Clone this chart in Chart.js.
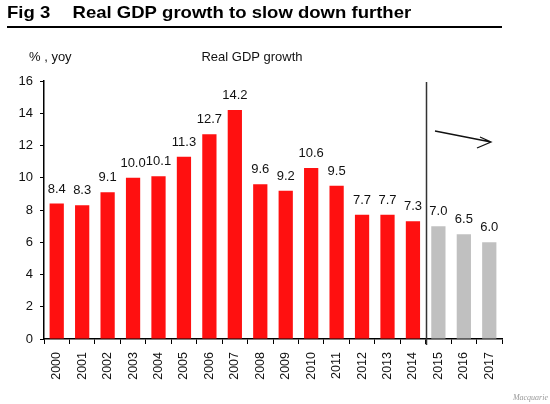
<!DOCTYPE html>
<html>
<head>
<meta charset="utf-8">
<script src="https://cdn.jsdelivr.net/npm/chart.js@4/dist/chart.umd.min.js"></script>
<style>
  html, body { margin: 0; padding: 0; background: #fff; }
  #wrap { position: relative; width: 550px; height: 404px; }
</style>
</head>
<body>
<div id="wrap"><canvas id="c" width="550" height="404"></canvas></div>
<script>
const years = ["2000","2001","2002","2003","2004","2005","2006","2007","2008","2009","2010","2011","2012","2013","2014","2015","2016","2017"];
const growth = [8.4, 8.3, 9.1, 10.0, 10.1, 11.3, 12.7, 14.2, 9.6, 9.2, 10.6, 9.5, 7.7, 7.7, 7.3, 7.0, 6.5, 6.0];
const forecastFrom = "2015";
const yTicks = [0, 2, 4, 6, 8, 10, 12, 14, 16];

const FONT = "'Liberation Sans', Arial, sans-serif";
const firstForecast = years.indexOf(forecastFrom);
const barColors = years.map((y, i) => i >= firstForecast ? '#c0c0c0' : '#ff1010');

const decor = {
  id: 'decor',
  afterDatasetsDraw(chart) {
    const ctx = chart.ctx;
    const meta = chart.getDatasetMeta(0);
    ctx.save();
    ctx.fillStyle = '#111';
    ctx.font = '13px ' + FONT;
    ctx.textAlign = 'center';
    ctx.textBaseline = 'alphabetic';
    meta.data.forEach((bar, i) => {
      ctx.fillText(growth[i].toFixed(1), bar.x, bar.y - 11);
    });
    ctx.restore();
  },
  afterDraw(chart) {
    const ctx = chart.ctx;
    const xs = chart.scales.x;
    const area = chart.chartArea;
    ctx.save();
    // title (slightly wide lettering as in the original)
    ctx.fillStyle = '#000';
    ctx.font = 'bold 17px ' + FONT;
    ctx.textBaseline = 'alphabetic';
    ctx.textAlign = 'left';
    ctx.save();
    ctx.scale(1.09, 1);
    ctx.fillText('Fig 3', 7 / 1.09, 17.5);
    ctx.fillText('Real GDP growth to slow down further', 72.5 / 1.09, 17.5);
    ctx.restore();
    // underline
    ctx.strokeStyle = '#000';
    ctx.lineWidth = 2;
    ctx.beginPath();
    ctx.moveTo(7, 27);
    ctx.lineTo(502, 27);
    ctx.stroke();
    // subtitles
    ctx.font = '13px ' + FONT;
    ctx.textBaseline = 'middle';
    ctx.fillStyle = '#111';
    ctx.fillText('% , yoy', 29, 57);
    ctx.textAlign = 'center';
    ctx.fillText('Real GDP growth', 252, 57);
    // forecast divider
    const xd = Math.round((xs.getPixelForValue(firstForecast - 1) + xs.getPixelForValue(firstForecast)) / 2) + 0.5;
    ctx.strokeStyle = '#333';
    ctx.lineWidth = 1.5;
    ctx.beginPath();
    ctx.moveTo(xd, area.top + 1);
    ctx.lineTo(xd, area.bottom + 6);
    ctx.stroke();
    // arrow
    ctx.strokeStyle = '#111';
    ctx.lineWidth = 1.3;
    ctx.beginPath();
    ctx.moveTo(435, 131);
    ctx.lineTo(491, 142);
    ctx.moveTo(477, 148);
    ctx.lineTo(491, 142);
    ctx.lineTo(480, 137);
    ctx.stroke();
    // source
    ctx.font = 'italic 8px "Liberation Serif", serif';
    ctx.fillStyle = '#999';
    ctx.textAlign = 'right';
    ctx.fillText('Macquarie', 548, 398);
    ctx.restore();
  }
};

new Chart(document.getElementById('c'), {
  type: 'bar',
  data: {
    labels: years,
    datasets: [{
      data: growth,
      backgroundColor: barColors,
      borderWidth: 0,
      barPercentage: 0.56,
      categoryPercentage: 1.0
    }]
  },
  options: {
    responsive: false,
    animation: false,
    events: [],
    layout: { padding: { top: 81, right: 48, left: 0, bottom: 0 } },
    plugins: { legend: { display: false }, tooltip: { enabled: false }, title: { display: false } },
    scales: {
      x: {
        offset: true,
        grid: { display: true, offset: true, drawOnChartArea: false, drawTicks: true, tickLength: 5, color: '#000' },
        border: { display: true, color: '#000', width: 1.5 },
        ticks: {
          color: '#111',
          font: { family: FONT, size: 12.5 },
          minRotation: 90, maxRotation: 90,
          autoSkip: false,
          padding: 8
        },
        afterFit(scale) { scale.height = 65; }
      },
      y: {
        min: 0, max: 16,
        afterBuildTicks(scale) { scale.ticks = yTicks.map(v => ({ value: v })); },
        grid: { display: true, drawOnChartArea: false, drawTicks: true, tickLength: 4, color: '#000' },
        border: { display: true, color: '#000', width: 1.5 },
        ticks: {
          color: '#111',
          font: { family: FONT, size: 13 },
          padding: 7
        },
        afterFit(scale) { scale.width = 44; }
      }
    }
  },
  plugins: [decor]
});
</script>
</body>
</html>
